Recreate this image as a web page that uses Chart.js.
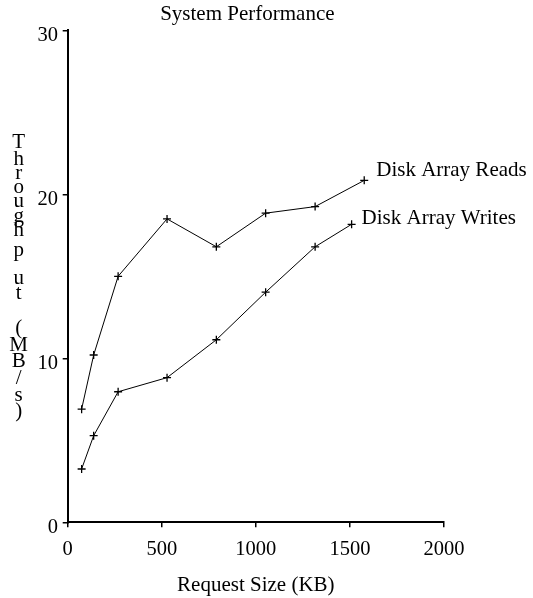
<!DOCTYPE html>
<html>
<head>
<meta charset="utf-8">
<script src="https://cdn.jsdelivr.net/npm/chart.js@4.4.1/dist/chart.umd.min.js"></script>
<style>
  html, body { margin: 0; padding: 0; background: #fff; }
  canvas { display: block; }
</style>
</head>
<body>
<canvas id="c" width="533" height="598"></canvas>
<script>
const chartTitle = 'System Performance';
const xTitle = 'Request Size (KB)';
const yTitle = 'Throughput (MB/s)';
const seriesNames = ['Disk Array Reads', 'Disk Array Writes'];
const readsX = [74, 138, 268, 528, 790, 1052, 1315, 1576];
const readsY = [6.9, 10.2, 15.0, 18.5, 16.8, 18.85, 19.25, 20.85];
const writesX = [74, 138, 268, 528, 790, 1052, 1315, 1509];
const writesY = [3.25, 5.28, 7.96, 8.82, 11.13, 14.03, 16.8, 18.17];
const xTicks = [0, 500, 1000, 1500, 2000];
const yTicks = [0, 10, 20, 30];

const FONT = '"Liberation Serif", "Times New Roman", serif';

function pts(xs, ys) { return xs.map((x, i) => ({ x: x, y: ys[i] })); }

const endLabels = {
  id: 'endLabels',
  afterDatasetsDraw(chart) {
    const ctx = chart.ctx;
    const offsets = [[12, -10], [10, -6]];
    ctx.save();
    ctx.font = '21px ' + FONT;
    ctx.fillStyle = '#000';
    ctx.textAlign = 'left';
    ctx.textBaseline = 'middle';
    chart.data.datasets.forEach((ds, i) => {
      const meta = chart.getDatasetMeta(i);
      const last = meta.data[meta.data.length - 1];
      ctx.fillText(ds.label, last.x + offsets[i][0], last.y + offsets[i][1]);
    });
    ctx.restore();
  }
};

const titles = {
  id: 'titles',
  afterDraw(chart) {
    const ctx = chart.ctx;
    const a = chart.chartArea;
    ctx.save();
    ctx.fillStyle = '#000';
    ctx.textBaseline = 'middle';
    ctx.textAlign = 'center';
    ctx.font = '21px ' + FONT;
    ctx.fillText(chartTitle, (a.left + a.right) / 2 - 8.5, a.top - 15.5);
    // stacked vertical y-axis title, one character per line
    const offs = [112.5, 128.7, 142.7, 156.7, 171.4, 185.7, 199.7, 219.7, 247.7, 262.7, 280, 297.7, 314.7, 331.4, 347.7, 364.7, 381.4];
    const chars = Array.from(yTitle);
    chars.forEach((ch, i) => ctx.fillText(ch, a.left - 49, a.top + offs[i]));
    ctx.restore();
  }
};

new Chart(document.getElementById('c'), {
  type: 'line',
  data: {
    datasets: [
      { label: seriesNames[0], data: pts(readsX, readsY) },
      { label: seriesNames[1], data: pts(writesX, writesY) }
    ]
  },
  options: {
    responsive: false,
    animation: false,
    devicePixelRatio: 1,
    layout: { autoPadding: false, padding: { left: 32.8, right: 89, top: 30.3, bottom: 0 } },
    elements: {
      line: { borderColor: '#000', borderWidth: 1, tension: 0, fill: false },
      point: { pointStyle: 'cross', radius: 4, borderColor: '#000', borderWidth: 1.3, backgroundColor: '#000' }
    },
    plugins: {
      legend: { display: false },
      tooltip: { enabled: false },
      title: { display: false }
    },
    scales: {
      x: {
        type: 'linear', min: 0, max: 2000,
        afterBuildTicks(s) { s.ticks = xTicks.map(v => ({ value: v })); },
        grid: { drawOnChartArea: false, drawTicks: true, tickLength: 5, color: '#000', lineWidth: 1.5 },
        border: { display: true, color: '#000', width: 2 },
        ticks: { color: '#000', font: { family: FONT, size: 20.5 }, padding: 9.7, maxRotation: 0, callback: v => String(v) },
        title: { display: true, text: xTitle, color: '#000', font: { family: FONT, size: 21 }, padding: { top: 1.5, bottom: 0 } }
      },
      y: {
        type: 'linear', min: 0, max: 30,
        afterBuildTicks(s) { s.ticks = yTicks.map(v => ({ value: v })); },
        grid: { drawOnChartArea: false, drawTicks: true, tickLength: 5, color: '#000', lineWidth: 1.5 },
        border: { display: true, color: '#000', width: 2 },
        ticks: { color: '#000', font: { family: FONT, size: 20.5 }, padding: 4.7, labelOffset: 5, callback: v => String(v) },
        title: { display: false }
      }
    }
  },
  plugins: [endLabels, titles]
});
</script>
</body>
</html>
